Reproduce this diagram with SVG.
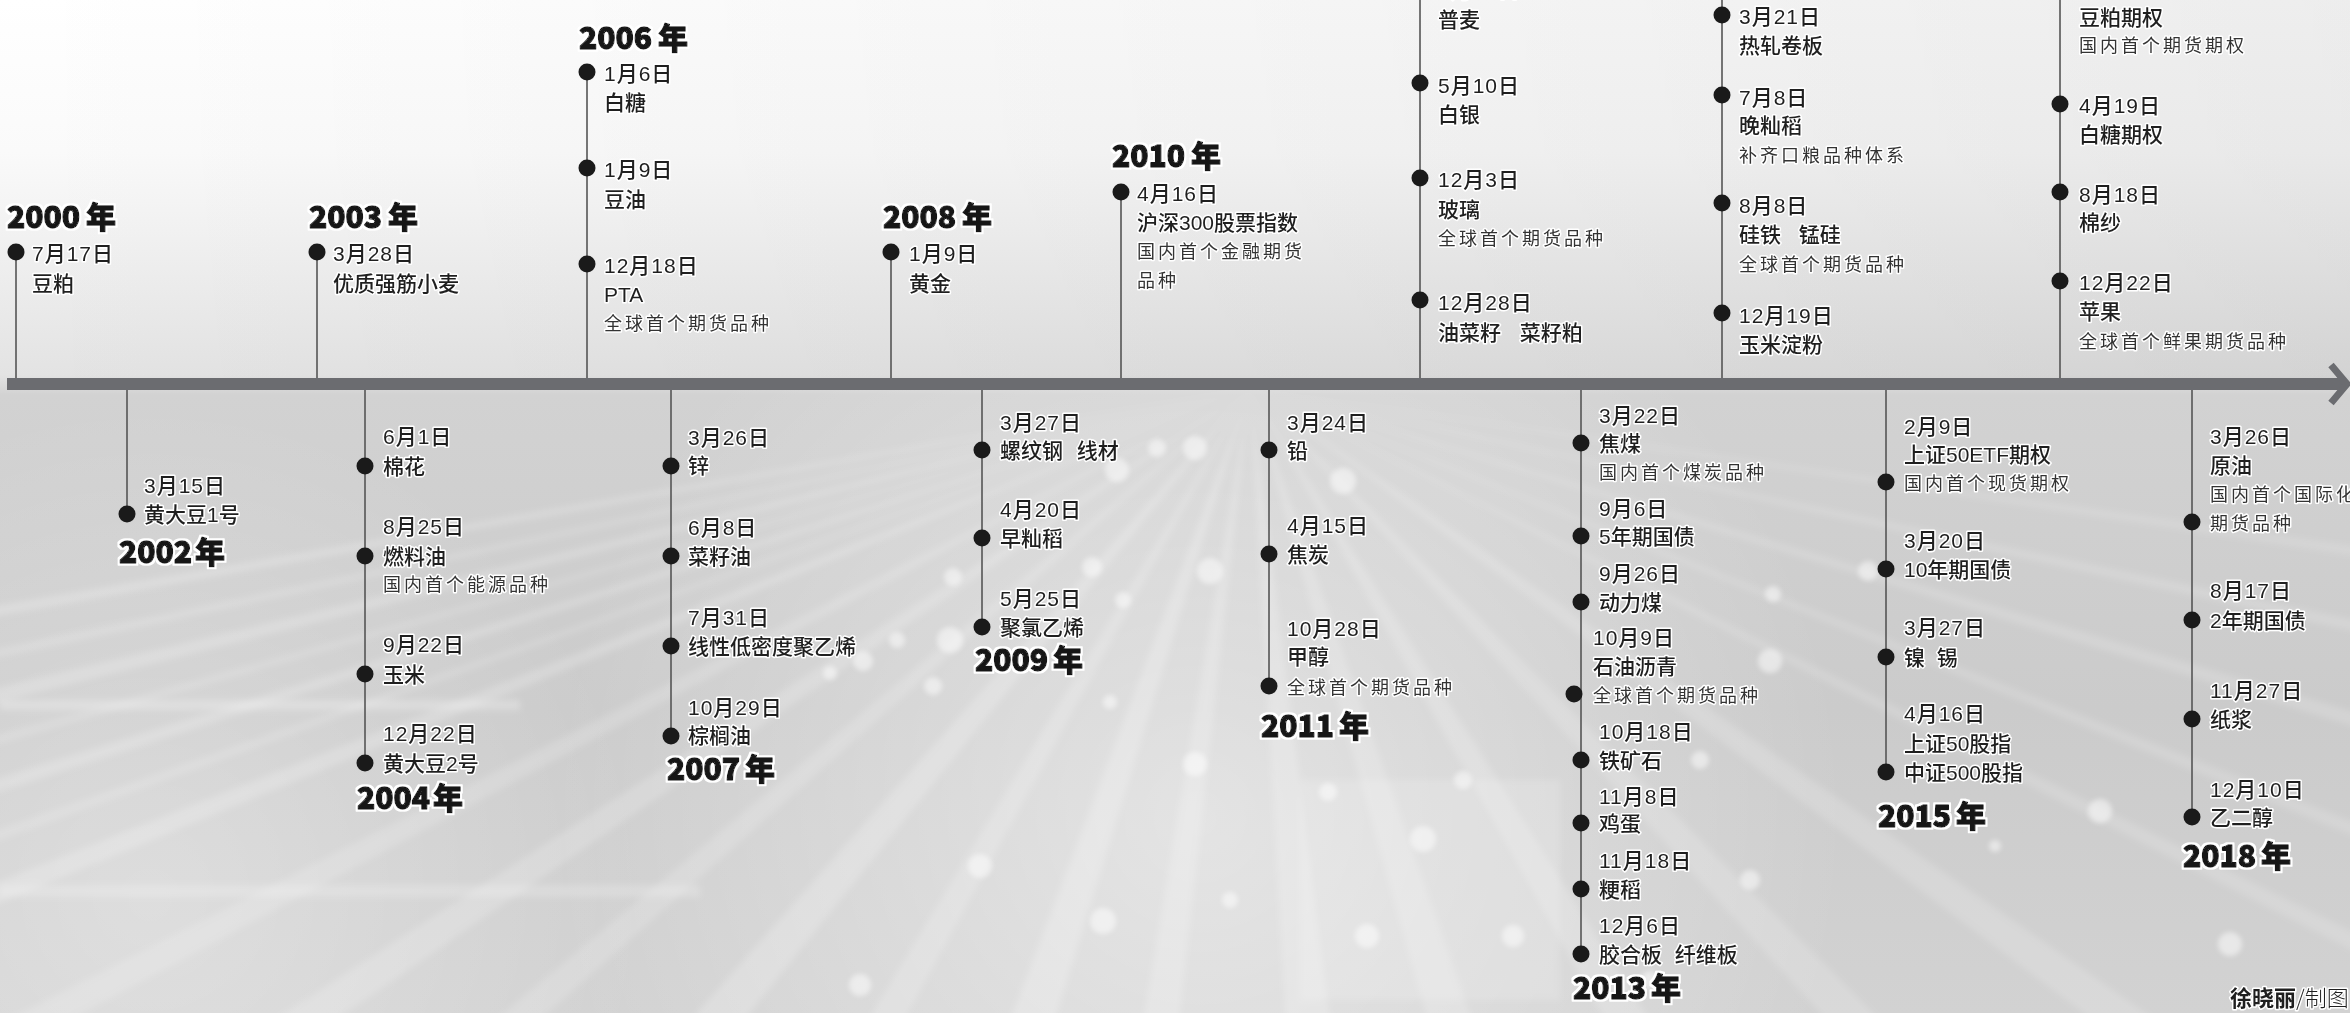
<svg xmlns="http://www.w3.org/2000/svg" width="2350" height="1013" viewBox="0 0 2350 1013">
<defs>
<linearGradient id="bg" x1="0" y1="0" x2="0" y2="1">
<stop offset="0" stop-color="#ffffff"/>
<stop offset="0.15" stop-color="#fafafa"/>
<stop offset="0.37" stop-color="#e3e3e3"/>
<stop offset="0.39" stop-color="#d2d2d2"/>
<stop offset="0.7" stop-color="#cbcbcb"/>
<stop offset="1" stop-color="#d2d2d2"/>
</linearGradient>
<linearGradient id="topShade" x1="0" y1="0" x2="1" y2="0">
<stop offset="0" stop-color="#000" stop-opacity="0"/>
<stop offset="1" stop-color="#000" stop-opacity="0.07"/>
</linearGradient>
<radialGradient id="glow" cx="1200" cy="820" r="650" gradientUnits="userSpaceOnUse">
<stop offset="0" stop-color="#fff" stop-opacity="0.45"/>
<stop offset="1" stop-color="#fff" stop-opacity="0"/>
</radialGradient>
<radialGradient id="glowL" cx="150" cy="900" r="500" gradientUnits="userSpaceOnUse">
<stop offset="0" stop-color="#fff" stop-opacity="0.3"/>
<stop offset="1" stop-color="#fff" stop-opacity="0"/>
</radialGradient>
<filter id="blur" x="-20%" y="-20%" width="140%" height="140%"><feGaussianBlur stdDeviation="3"/></filter>
<filter id="blur2" x="-50%" y="-50%" width="200%" height="200%"><feGaussianBlur stdDeviation="2.5"/></filter>
<filter id="halo" x="-10%" y="-30%" width="120%" height="160%">
<feMorphology in="SourceAlpha" operator="dilate" radius="2" result="d"/>
<feFlood flood-color="#ffffff"/>
<feComposite in2="d" operator="in" result="w"/>
<feMerge><feMergeNode in="w"/><feMergeNode in="SourceGraphic"/></feMerge>
</filter>
<style>
.yr{font-family:"Noto Sans CJK SC","Liberation Sans",sans-serif;font-weight:900;font-size:30px;fill:#161616;stroke:#161616;stroke-width:1.3px;stroke-linejoin:round;filter:url(#halo)}
.d{font-family:"Liberation Sans","Noto Sans CJK SC",sans-serif;font-size:21px;font-weight:500;fill:#1f1f1f;stroke:#fff;stroke-width:3px;stroke-linejoin:round;paint-order:stroke;letter-spacing:1px}
.n{font-family:"Liberation Sans","Noto Sans CJK SC",sans-serif;font-size:21px;font-weight:500;fill:#1f1f1f;stroke:#fff;stroke-width:3px;stroke-linejoin:round;paint-order:stroke}
.a{font-family:"Noto Sans CJK SC",serif;font-size:18px;font-weight:400;letter-spacing:3px;fill:#333;stroke:#fff;stroke-width:3px;stroke-linejoin:round;paint-order:stroke}
.cr{font-family:"Noto Sans CJK SC",sans-serif;font-size:22px;fill:#1f1f1f;stroke:#fff;stroke-width:3px;stroke-linejoin:round;paint-order:stroke}
.dot{fill:#1a1a1a}
.stem{stroke:#555;stroke-width:1.6;fill:none}
.ray{fill:#fff}
.bk{fill:#fff;opacity:0.5}
</style>
</defs>

<g id="background">
<rect width="2350" height="1013" fill="url(#bg)"/>
<rect width="2350" height="384" fill="url(#topShade)"/>
<rect x="0" y="390" width="2350" height="623" fill="url(#glow)"/>
<rect x="0" y="390" width="2350" height="623" fill="url(#glowL)"/>
<g filter="url(#blur)">
<polygon class="ray" opacity="0.22" points="1250,388 -200,640 -200,652"/>
<polygon class="ray" opacity="0.18" points="1250,388 -200,690 -200,700"/>
<polygon class="ray" opacity="0.2" points="1250,388 -200,735 -200,752"/>
<polygon class="ray" opacity="0.16" points="1250,388 -200,790 -200,800"/>
<polygon class="ray" opacity="0.2" points="1250,388 -200,840 -200,856"/>
<polygon class="ray" opacity="0.16" points="1250,388 -200,900 -200,912"/>
<polygon class="ray" opacity="0.2" points="1250,388 -200,960 -200,985"/>
<polygon class="ray" opacity="0.16" points="1250,388 -150,1100 -80,1100"/>
<polygon class="ray" opacity="0.18" points="1250,388 150,1100 220,1100"/>
<polygon class="ray" opacity="0.16" points="1250,388 400,1100 450,1100"/>
<polygon class="ray" opacity="0.2" points="1250,388 620,1100 680,1100"/>
<polygon class="ray" opacity="0.18" points="1250,388 820,1100 860,1100"/>
<polygon class="ray" opacity="0.22" points="1250,388 980,1100 1030,1100"/>
<polygon class="ray" opacity="0.2" points="1250,388 1130,1100 1170,1100"/>
<polygon class="ray" opacity="0.2" points="1250,388 1290,1100 1340,1100"/>
<polygon class="ray" opacity="0.18" points="1250,388 1450,1100 1500,1100"/>
<polygon class="ray" opacity="0.18" points="1250,388 1650,1100 1700,1100"/>
<polygon class="ray" opacity="0.16" points="1250,388 1900,1100 1960,1100"/>
<polygon class="ray" opacity="0.16" points="1250,388 2200,1100 2270,1100"/>
<polygon class="ray" opacity="0.15" points="1250,388 2450,980 2450,1000"/>
<polygon class="ray" opacity="0.15" points="1250,388 2450,860 2450,875"/>
<polygon class="ray" opacity="0.16" points="1250,388 2450,740 2450,756"/>
<polygon class="ray" opacity="0.16" points="1250,388 2450,640 2450,652"/>
<polygon class="ray" opacity="0.14" points="1250,388 2450,560 2450,570"/>
<rect class="ray" opacity="0.25" x="0" y="700" width="520" height="10"/>
<rect class="ray" opacity="0.2" x="0" y="885" width="700" height="12"/>
<rect class="ray" opacity="0.15" x="1300" y="780" width="260" height="220"/>
</g>
<g filter="url(#blur2)">
<circle class="bk" cx="1157" cy="448" r="9"/>
<circle class="bk" cx="1117" cy="470" r="12"/>
<circle class="bk" cx="1092" cy="567" r="10"/>
<circle class="bk" cx="1123" cy="600" r="8"/>
<circle class="bk" cx="953" cy="577" r="9"/>
<circle class="bk" cx="950" cy="640" r="13"/>
<circle class="bk" cx="897" cy="640" r="8"/>
<circle class="bk" cx="863" cy="661" r="10"/>
<circle class="bk" cx="830" cy="673" r="7"/>
<circle class="bk" cx="933" cy="686" r="9"/>
<circle class="bk" cx="1110" cy="702" r="7"/>
<circle class="bk" cx="980" cy="866" r="12"/>
<circle class="bk" cx="1103" cy="921" r="13"/>
<circle class="bk" cx="860" cy="985" r="11"/>
<circle class="bk" cx="1343" cy="481" r="13"/>
<circle class="bk" cx="1195" cy="448" r="12"/>
<circle class="bk" cx="1210" cy="571" r="13"/>
<circle class="bk" cx="1195" cy="764" r="12"/>
<circle class="bk" cx="1423" cy="839" r="13"/>
<circle class="bk" cx="1367" cy="936" r="12"/>
<circle class="bk" cx="1513" cy="936" r="11"/>
<circle class="bk" cx="1328" cy="792" r="9"/>
<circle class="bk" cx="1463" cy="780" r="9"/>
<circle class="bk" cx="1770" cy="661" r="12"/>
<circle class="bk" cx="1868" cy="571" r="10"/>
<circle class="bk" cx="1773" cy="594" r="8"/>
<circle class="bk" cx="1700" cy="760" r="9"/>
<circle class="bk" cx="1750" cy="880" r="10"/>
<circle class="bk" cx="2100" cy="811" r="12"/>
<circle class="bk" cx="2230" cy="944" r="12"/>
<circle class="bk" cx="1995" cy="846" r="6"/>
<circle class="bk" cx="1650" cy="980" r="9"/>
<circle class="bk" cx="1230" cy="900" r="8"/>
</g>
</g>

<g id="connectors">
<rect x="7" y="378" width="2336" height="12" fill="#6b6c70"/>
<path d="M2331,365 L2347,384 L2331,403" fill="none" stroke="#6b6c70" stroke-width="7"/>
<line class="stem" x1="16" y1="252" x2="16" y2="378"/>
<line class="stem" x1="317" y1="252" x2="317" y2="378"/>
<line class="stem" x1="587" y1="72" x2="587" y2="378"/>
<line class="stem" x1="891" y1="252" x2="891" y2="378"/>
<line class="stem" x1="1121" y1="192" x2="1121" y2="378"/>
<line class="stem" x1="1420" y1="0" x2="1420" y2="378"/>
<line class="stem" x1="1722" y1="0" x2="1722" y2="378"/>
<line class="stem" x1="2060" y1="0" x2="2060" y2="378"/>
<line class="stem" x1="127" y1="390" x2="127" y2="514"/>
<line class="stem" x1="365" y1="390" x2="365" y2="763"/>
<line class="stem" x1="671" y1="390" x2="671" y2="736"/>
<line class="stem" x1="982" y1="390" x2="982" y2="627"/>
<line class="stem" x1="1269" y1="390" x2="1269" y2="686"/>
<line class="stem" x1="1581" y1="390" x2="1581" y2="954"/>
<line class="stem" x1="1886" y1="390" x2="1886" y2="772"/>
<line class="stem" x1="2192" y1="390" x2="2192" y2="817"/>
</g>

<g id="y2000">
<text class="yr" x="7" y="228">2000<tspan dx="6">年</tspan></text>
<circle class="dot" cx="16" cy="252" r="8.5"/>
<text class="d" x="32" y="261">7月17日</text>
<text class="n" x="32" y="291">豆粕</text>
</g>

<g id="y2002">
<circle class="dot" cx="127" cy="514" r="8.5"/>
<text class="d" x="144" y="493">3月15日</text>
<text class="n" x="144" y="522">黄大豆1号</text>
<text class="yr" x="119" y="563">2002<tspan dx="3">年</tspan></text>
</g>

<g id="y2003">
<text class="yr" x="309" y="228">2003<tspan dx="6">年</tspan></text>
<circle class="dot" cx="317" cy="252" r="8.5"/>
<text class="d" x="333" y="261">3月28日</text>
<text class="n" x="333" y="291">优质强筋小麦</text>
</g>

<g id="y2004">
<circle class="dot" cx="365" cy="466" r="8.5"/>
<circle class="dot" cx="365" cy="556" r="8.5"/>
<circle class="dot" cx="365" cy="674" r="8.5"/>
<circle class="dot" cx="365" cy="763" r="8.5"/>
<text class="d" x="383" y="444">6月1日</text>
<text class="n" x="383" y="474">棉花</text>
<text class="d" x="383" y="534">8月25日</text>
<text class="n" x="383" y="564">燃料油</text>
<text class="a" x="383" y="591">国内首个能源品种</text>
<text class="d" x="383" y="652">9月22日</text>
<text class="n" x="383" y="682">玉米</text>
<text class="d" x="383" y="741">12月22日</text>
<text class="n" x="383" y="771">黄大豆2号</text>
<text class="yr" x="357" y="809">2004<tspan dx="3">年</tspan></text>
</g>

<g id="y2006">
<text class="yr" x="579" y="49">2006<tspan dx="6">年</tspan></text>
<circle class="dot" cx="587" cy="72" r="8.5"/>
<circle class="dot" cx="587" cy="168" r="8.5"/>
<circle class="dot" cx="587" cy="264" r="8.5"/>
<text class="d" x="604" y="81">1月6日</text>
<text class="n" x="604" y="110">白糖</text>
<text class="d" x="604" y="177">1月9日</text>
<text class="n" x="604" y="207">豆油</text>
<text class="d" x="604" y="273">12月18日</text>
<text class="n" x="604" y="302">PTA</text>
<text class="a" x="604" y="330">全球首个期货品种</text>
</g>

<g id="y2007">
<circle class="dot" cx="671" cy="466" r="8.5"/>
<circle class="dot" cx="671" cy="556" r="8.5"/>
<circle class="dot" cx="671" cy="646" r="8.5"/>
<circle class="dot" cx="671" cy="736" r="8.5"/>
<text class="d" x="688" y="445">3月26日</text>
<text class="n" x="688" y="473">锌</text>
<text class="d" x="688" y="535">6月8日</text>
<text class="n" x="688" y="564">菜籽油</text>
<text class="d" x="688" y="625">7月31日</text>
<text class="n" x="688" y="654">线性低密度聚乙烯</text>
<text class="d" x="688" y="715">10月29日</text>
<text class="n" x="688" y="743">棕榈油</text>
<text class="yr" x="667" y="780">2007<tspan dx="5">年</tspan></text>
</g>

<g id="y2008">
<text class="yr" x="883" y="228">2008<tspan dx="6">年</tspan></text>
<circle class="dot" cx="891" cy="252" r="8.5"/>
<text class="d" x="909" y="261">1月9日</text>
<text class="n" x="909" y="291">黄金</text>
</g>

<g id="y2009">
<circle class="dot" cx="982" cy="450" r="8.5"/>
<circle class="dot" cx="982" cy="538" r="8.5"/>
<circle class="dot" cx="982" cy="627" r="8.5"/>
<text class="d" x="1000" y="430">3月27日</text>
<text class="n" x="1000" y="458">螺纹钢 <tspan dx="8">线材</tspan></text>
<text class="d" x="1000" y="517">4月20日</text>
<text class="n" x="1000" y="546">早籼稻</text>
<text class="d" x="1000" y="606">5月25日</text>
<text class="n" x="1000" y="635">聚氯乙烯</text>
<text class="yr" x="975" y="671">2009<tspan dx="5">年</tspan></text>
</g>

<g id="y2010">
<text class="yr" x="1112" y="167">2010<tspan dx="6">年</tspan></text>
<circle class="dot" cx="1121" cy="192" r="8.5"/>
<text class="d" x="1137" y="201">4月16日</text>
<text class="n" x="1137" y="230">沪深300股票指数</text>
<text class="a" x="1137" y="258">国内首个金融期货</text>
<text class="a" x="1137" y="287">品种</text>
</g>

<g id="y2011">
<circle class="dot" cx="1269" cy="450" r="8.5"/>
<circle class="dot" cx="1269" cy="554" r="8.5"/>
<circle class="dot" cx="1269" cy="686" r="8.5"/>
<text class="d" x="1287" y="430">3月24日</text>
<text class="n" x="1287" y="458">铅</text>
<text class="d" x="1287" y="533">4月15日</text>
<text class="n" x="1287" y="562">焦炭</text>
<text class="d" x="1287" y="636">10月28日</text>
<text class="n" x="1287" y="664">甲醇</text>
<text class="a" x="1287" y="694">全球首个期货品种</text>
<text class="yr" x="1261" y="737">2011<tspan dx="5">年</tspan></text>
</g>

<g id="y2012">
<text class="d" x="1438" y="-3">1月17日</text>
<text class="n" x="1438" y="27">普麦</text>
<circle class="dot" cx="1420" cy="83" r="8.5"/>
<circle class="dot" cx="1420" cy="178" r="8.5"/>
<circle class="dot" cx="1420" cy="300" r="8.5"/>
<text class="d" x="1438" y="93">5月10日</text>
<text class="n" x="1438" y="122">白银</text>
<text class="d" x="1438" y="187">12月3日</text>
<text class="n" x="1438" y="217">玻璃</text>
<text class="a" x="1438" y="245">全球首个期货品种</text>
<text class="d" x="1438" y="310">12月28日</text>
<text class="n" x="1438" y="340">油菜籽 <tspan dx="13">菜籽粕</tspan></text>
</g>

<g id="y2013">
<circle class="dot" cx="1581" cy="443" r="8.5"/>
<circle class="dot" cx="1581" cy="536" r="8.5"/>
<circle class="dot" cx="1581" cy="602" r="8.5"/>
<circle class="dot" cx="1574" cy="694" r="8.5"/>
<circle class="dot" cx="1581" cy="760" r="8.5"/>
<circle class="dot" cx="1581" cy="823" r="8.5"/>
<circle class="dot" cx="1581" cy="889" r="8.5"/>
<circle class="dot" cx="1581" cy="954" r="8.5"/>
<text class="d" x="1599" y="423">3月22日</text>
<text class="n" x="1599" y="451">焦煤</text>
<text class="a" x="1599" y="479">国内首个煤炭品种</text>
<text class="d" x="1599" y="516">9月6日</text>
<text class="n" x="1599" y="544">5年期国债</text>
<text class="d" x="1599" y="581">9月26日</text>
<text class="n" x="1599" y="610">动力煤</text>
<text class="d" x="1593" y="645">10月9日</text>
<text class="n" x="1593" y="674">石油沥青</text>
<text class="a" x="1593" y="702">全球首个期货品种</text>
<text class="d" x="1599" y="739">10月18日</text>
<text class="n" x="1599" y="768">铁矿石</text>
<text class="d" x="1599" y="804">11月8日</text>
<text class="n" x="1599" y="831">鸡蛋</text>
<text class="d" x="1599" y="868">11月18日</text>
<text class="n" x="1599" y="897">粳稻</text>
<text class="d" x="1599" y="933">12月6日</text>
<text class="n" x="1599" y="962">胶合板 <tspan dx="7">纤维板</tspan></text>
<text class="yr" x="1573" y="999">2013<tspan dx="5">年</tspan></text>
</g>

<g id="y2014">
<circle class="dot" cx="1722" cy="15" r="8.5"/>
<circle class="dot" cx="1722" cy="95" r="8.5"/>
<circle class="dot" cx="1722" cy="203" r="8.5"/>
<circle class="dot" cx="1722" cy="313" r="8.5"/>
<text class="d" x="1739" y="24">3月21日</text>
<text class="n" x="1739" y="53">热轧卷板</text>
<text class="d" x="1739" y="105">7月8日</text>
<text class="n" x="1739" y="133">晚籼稻</text>
<text class="a" x="1739" y="162">补齐口粮品种体系</text>
<text class="d" x="1739" y="213">8月8日</text>
<text class="n" x="1739" y="242">硅铁 <tspan dx="12">锰硅</tspan></text>
<text class="a" x="1739" y="271">全球首个期货品种</text>
<text class="d" x="1739" y="323">12月19日</text>
<text class="n" x="1739" y="352">玉米淀粉</text>
</g>

<g id="y2015">
<circle class="dot" cx="1886" cy="482" r="8.5"/>
<circle class="dot" cx="1886" cy="569" r="8.5"/>
<circle class="dot" cx="1886" cy="657" r="8.5"/>
<circle class="dot" cx="1886" cy="772" r="8.5"/>
<text class="d" x="1904" y="434">2月9日</text>
<text class="n" x="1904" y="462">上证50ETF期权</text>
<text class="a" x="1904" y="490">国内首个现货期权</text>
<text class="d" x="1904" y="548">3月20日</text>
<text class="n" x="1904" y="577">10年期国债</text>
<text class="d" x="1904" y="635">3月27日</text>
<text class="n" x="1904" y="665">镍 <tspan dx="6">锡</tspan></text>
<text class="d" x="1904" y="721">4月16日</text>
<text class="n" x="1904" y="751">上证50股指</text>
<text class="n" x="1904" y="780">中证500股指</text>
<text class="yr" x="1878" y="827">2015<tspan dx="5">年</tspan></text>
</g>

<g id="y2017">
<circle class="dot" cx="2060" cy="104" r="8.5"/>
<circle class="dot" cx="2060" cy="192" r="8.5"/>
<circle class="dot" cx="2060" cy="281" r="8.5"/>
<text class="n" x="2079" y="25">豆粕期权</text>
<text class="a" x="2079" y="52">国内首个期货期权</text>
<text class="d" x="2079" y="113">4月19日</text>
<text class="n" x="2079" y="142">白糖期权</text>
<text class="d" x="2079" y="202">8月18日</text>
<text class="n" x="2079" y="230">棉纱</text>
<text class="d" x="2079" y="290">12月22日</text>
<text class="n" x="2079" y="319">苹果</text>
<text class="a" x="2079" y="348">全球首个鲜果期货品种</text>
</g>

<g id="y2018">
<circle class="dot" cx="2192" cy="522" r="8.5"/>
<circle class="dot" cx="2192" cy="620" r="8.5"/>
<circle class="dot" cx="2192" cy="719" r="8.5"/>
<circle class="dot" cx="2192" cy="817" r="8.5"/>
<text class="d" x="2210" y="444">3月26日</text>
<text class="n" x="2210" y="473">原油</text>
<text class="a" x="2210" y="501">国内首个国际化</text>
<text class="a" x="2210" y="530">期货品种</text>
<text class="d" x="2210" y="598">8月17日</text>
<text class="n" x="2210" y="628">2年期国债</text>
<text class="d" x="2210" y="698">11月27日</text>
<text class="n" x="2210" y="727">纸浆</text>
<text class="d" x="2210" y="797">12月10日</text>
<text class="n" x="2210" y="825">乙二醇</text>
<text class="yr" x="2183" y="867">2018<tspan dx="5">年</tspan></text>
</g>

<g id="credit">
<text class="cr" x="2230" y="1006"><tspan font-weight="700">徐晓丽</tspan><tspan font-weight="300">/制图</tspan></text>
</g>
</svg>
